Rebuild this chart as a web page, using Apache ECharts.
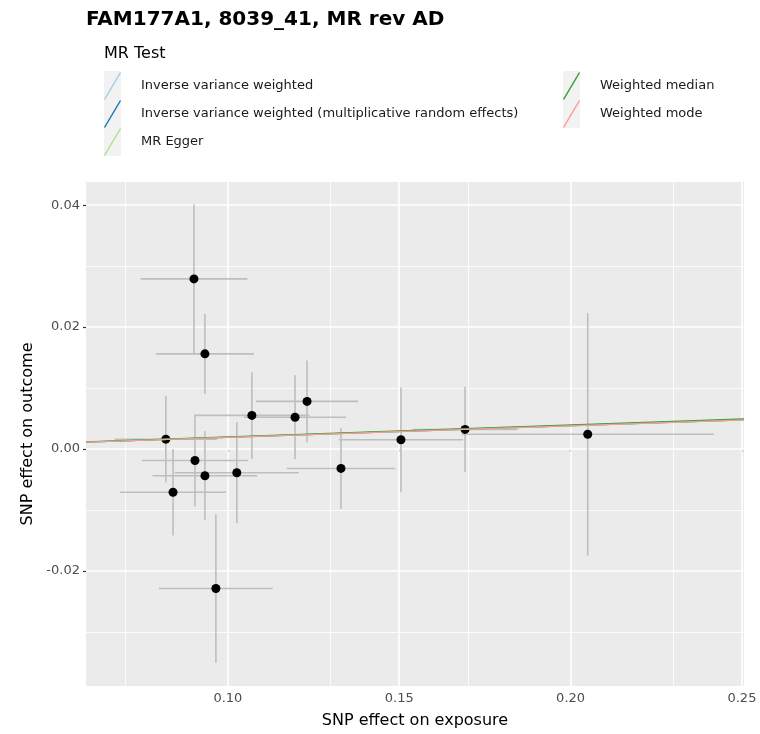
<!DOCTYPE html>
<html>
<head>
  <meta charset="UTF-8">
  <title>MR scatter</title>
  <style>
    * { margin: 0; padding: 0; }
    body { background: #fff; }
    #chart { width: 760px; height: 734px; }
  </style>
</head>
<body>
<div id="chart"></div>
<script src="https://cdn.jsdelivr.net/npm/echarts@6/dist/echarts.min.js"></script>
<script>
  // SNP effects
  var snpExposure   = [0.0901, 0.0933, 0.0819, 0.0904, 0.1070, 0.1196, 0.1231, 0.0933, 0.1026, 0.0840, 0.0965, 0.1330, 0.1505, 0.1692, 0.2050];
  var snpExposureSe = [0.0156, 0.0143, 0.0149, 0.0155, 0.0168, 0.0149, 0.0149, 0.0153, 0.0181, 0.0155, 0.0166, 0.0158, 0.0181, 0.0153, 0.0368];
  var snpOutcome    = [0.0279, 0.0156, 0.0016, -0.0019, 0.0055, 0.0052, 0.0078, -0.0044, -0.0039, -0.0071, -0.0229, -0.0032, 0.0015, 0.0032, 0.0024];
  var snpOutcomeSe  = [0.0122, 0.0066, 0.0071, 0.0075, 0.0071, 0.0069, 0.0067, 0.0073, 0.0083, 0.0071, 0.0122, 0.0066, 0.0086, 0.0070, 0.0199];

  // MR methods
  var methodNames = [
    'Inverse variance weighted',
    'Inverse variance weighted (multiplicative random effects)',
    'MR Egger',
    'Weighted median',
    'Weighted mode'
  ];
  var methodSlopes = [0.0191, 0.0191, 0.0190, 0.0196, 0.0190];
  var methodIntercepts = [0, 0, 0, 0, 0];
  var methodColors = ['#a6cee3', '#1f78b4', '#b2df8a', '#33a02c', '#fb9a99'];

  // axes
  var xRange = [0.0586, 0.2506];
  var yRange = [-0.0389, 0.0438];
  var xMajor = [0.10, 0.15, 0.20, 0.25];
  var xMinor = [0.075, 0.125, 0.175, 0.225];
  var yMajor = [-0.02, 0.00, 0.02, 0.04];
  var yMinor = [-0.03, -0.01, 0.01, 0.03];

  var chart = echarts.init(document.getElementById('chart'));
  var FONT = 'DejaVu Sans';

  var points = snpExposure.map(function (x, i) {
    return [x, snpOutcome[i], snpExposureSe[i], snpOutcomeSe[i]];
  });

  // grid lines drawn as markLines so they sit at the ggplot positions
  function gridLines() {
    var d = [];
    xMinor.forEach(function (v) { d.push({ xAxis: v, lineStyle: { width: 0.8 } }); });
    yMinor.forEach(function (v) { d.push({ yAxis: v, lineStyle: { width: 0.8 } }); });
    xMajor.forEach(function (v) { d.push({ xAxis: v, lineStyle: { width: 1.6 } }); });
    yMajor.forEach(function (v) { d.push({ yAxis: v, lineStyle: { width: 1.6 } }); });
    return d;
  }

  var series = [];
  series.push({
    type: 'scatter',
    name: '_grid',
    data: [],
    z: 1,
    silent: true,
    markLine: {
      z: 1,
      silent: true,
      symbol: ['none', 'none'],
      label: { show: false },
      lineStyle: { color: '#ffffff', type: 'solid' },
      animation: false,
      data: gridLines()
    }
  });

  // error bars
  series.push({
    type: 'custom',
    name: '_err',
    z: 10,
    silent: true,
    data: points,
    renderItem: function (params, api) {
      var x = api.value(0), y = api.value(1), sx = api.value(2), sy = api.value(3);
      var h1 = api.coord([x - sx, y]), h2 = api.coord([x + sx, y]);
      var v1 = api.coord([x, y - sy]), v2 = api.coord([x, y + sy]);
      var st = { stroke: '#bebebe', lineWidth: 1.6 };
      return {
        type: 'group',
        children: [
          { type: 'line', shape: { x1: h1[0], y1: h1[1], x2: h2[0], y2: h2[1] }, style: st },
          { type: 'line', shape: { x1: v1[0], y1: v1[1], x2: v2[0], y2: v2[1] }, style: st }
        ]
      };
    }
  });

  // points
  series.push({
    type: 'scatter',
    name: '_pts',
    z: 11,
    data: points.map(function (p) { return [p[0], p[1]]; }),
    symbolSize: 9,
    itemStyle: { color: '#000000', opacity: 1 }
  });

  // regression lines
  methodNames.forEach(function (name, i) {
    series.push({
      type: 'line',
      name: name,
      z: 12 + i,
      showSymbol: false,
      silent: true,
      color: methodColors[i],
      lineStyle: { width: 1.3, color: methodColors[i] },
      data: [
        [xRange[0], methodIntercepts[i] + methodSlopes[i] * xRange[0]],
        [xRange[1], methodIntercepts[i] + methodSlopes[i] * xRange[1]]
      ]
    });
  });

  var keyIcon = 'path://M0,27 L16,0 L17,1 L1,28 Z';
  var legendBase = {
    orient: 'vertical',
    top: 72,
    padding: 0,
    itemGap: 0,
    itemWidth: 17,
    itemHeight: 28,
    icon: keyIcon,
    selectedMode: false,
    textStyle: { fontFamily: FONT, fontSize: 13, color: '#1a1a1a', padding: [0, 0, 0, 15] }
  };

  var option = {
    animation: false,
    textStyle: { fontFamily: FONT },
    title: {
      text: 'FAM177A1, 8039_41, MR rev AD',
      left: 81,
      top: 5,
      textStyle: { fontFamily: FONT, fontSize: 20, fontWeight: 'bold', color: '#000' }
    },
    graphic: [
      { type: 'text', left: 104, top: 46, style: { text: 'MR Test', font: '16px "DejaVu Sans"', fill: '#000' } },
      { type: 'rect', shape: { x: 104, y: 71, width: 17, height: 85 }, style: { fill: '#f2f2f2' }, z: -1 },
      { type: 'rect', shape: { x: 563, y: 71, width: 17, height: 57 }, style: { fill: '#f2f2f2' }, z: -1 }
    ],
    legend: [
      Object.assign({}, legendBase, { left: 104, data: methodNames.slice(0, 3) }),
      Object.assign({}, legendBase, { left: 563, data: methodNames.slice(3) })
    ],
    grid: {
      left: 86, right: 16, top: 182, bottom: 42,
      show: true, backgroundColor: '#ebebeb', borderWidth: 0
    },
    xAxis: {
      type: 'value',
      min: xRange[0],
      max: xRange[1],
      name: 'SNP effect on exposure',
      nameLocation: 'middle',
      nameGap: 27,
      nameTextStyle: { fontFamily: FONT, fontSize: 16, color: '#000' },
      axisLine: { show: false },
      splitLine: { show: false },
      axisTick: { show: true, length: 3, customValues: xMajor, lineStyle: { color: '#333', width: 1.2 } },
      axisLabel: {
        customValues: xMajor, margin: 6,
        fontFamily: FONT, fontSize: 13, color: '#4d4d4d',
        formatter: function (v) { return v.toFixed(2); }
      }
    },
    yAxis: {
      type: 'value',
      min: yRange[0],
      max: yRange[1],
      name: 'SNP effect on outcome',
      nameLocation: 'middle',
      nameGap: 50,
      nameRotate: 90,
      nameTextStyle: { fontFamily: FONT, fontSize: 16, color: '#000' },
      axisLine: { show: false },
      splitLine: { show: false },
      axisTick: { show: true, length: 3, customValues: yMajor, lineStyle: { color: '#333', width: 1.2 } },
      axisLabel: {
        customValues: yMajor, margin: 6,
        fontFamily: FONT, fontSize: 13, color: '#4d4d4d',
        formatter: function (v) { return v.toFixed(2); }
      }
    },
    series: series
  };

  chart.setOption(option);
</script>
</body>
</html>
